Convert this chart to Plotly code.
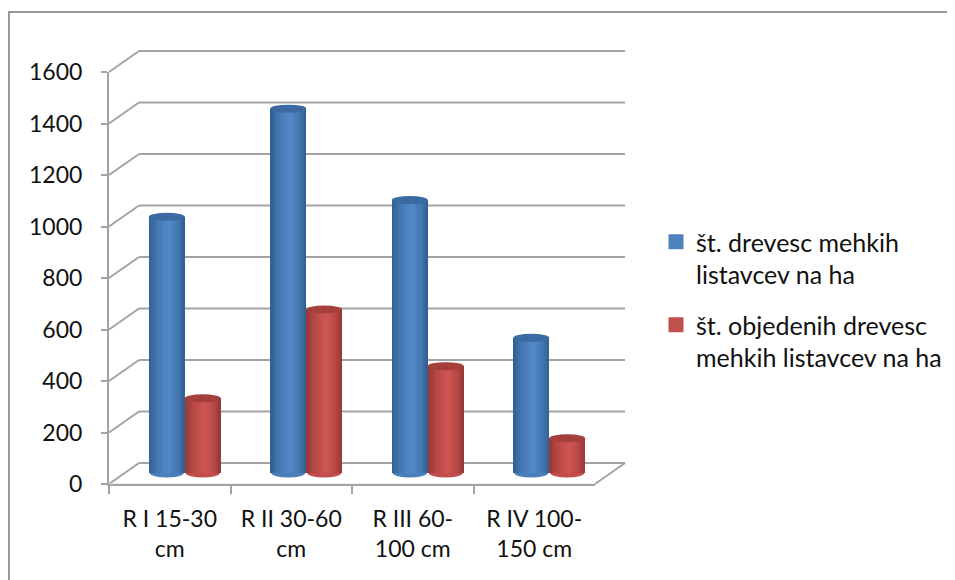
import plotly.graph_objects as go

categories = ["R I 15-30<br>cm", "R II 30-60<br>cm", "R III 60-<br>100 cm", "R IV 100-<br>150 cm"]
series_a_name = "št. drevesc mehkih<br>listavcev na ha"
series_b_name = "št. objedenih drevesc<br>mehkih listavcev na ha"
series_a = [995, 1415, 1060, 525]
series_b = [290, 635, 415, 135]
y_ticks = [0, 200, 400, 600, 800, 1000, 1200, 1400, 1600]

# the page has an 8 px body margin; the figure fills the rest of the window
PAGE = 8
W, H = 955 - PAGE, 580 - PAGE
FONT = "Lato"
GRID = "#a3a3a3"
TEXT = "#111111"

# geometry of the pseudo-3D box, in window pixels
front_l, front_r, front_b, front_t = 109, 595, 484, 72
depth_x, depth_y = 30, 21
mid_x, mid_y = 15, 11
foot_room = 30
bar_w = 0.296
bar_px = 36
px = lambda x: (x - PAGE) / W
py = lambda y: 1 - (y - PAGE) / H
val_y = lambda v: front_b - (front_b - front_t) * v / 1600


def shades(edge, centre, n=15, peak=0.55):
    out = []
    for i in range(n):
        t = (i + 0.5) / n
        s = t / peak if t < peak else (1 - t) / (1 - peak)
        s = min(1, s ** 0.6)
        out.append("rgb(%d,%d,%d)" % tuple(round(e + (c - e) * s) for e, c in zip(edge, centre)))
    return out


fig = go.Figure()
idx = list(range(len(categories)))

# front axes, carrying the labels
fig.add_trace(go.Bar(x=categories, y=[0] * len(categories), xaxis="x", yaxis="y",
                     showlegend=False, hoverinfo="skip"))

specs = [
    (series_a_name, series_a, -bar_w, "#4F81BD", shades((44, 88, 138), (84, 138, 202))),
    (series_b_name, series_b, 0.0, "#C0504D", shades((140, 50, 48), (208, 86, 82))),
]
shapes = []

# back wall, floor and side lines
for v in y_ticks:
    yb = val_y(v) - depth_y
    shapes.append(dict(type="line", xref="paper", yref="paper", layer="below",
                       x0=px(front_l + depth_x), x1=px(front_r + depth_x), y0=py(yb), y1=py(yb),
                       line=dict(color=GRID, width=2)))
    shapes.append(dict(type="line", xref="paper", yref="paper", layer="below",
                       x0=px(front_l), x1=px(front_l + depth_x), y0=py(val_y(v)), y1=py(yb),
                       line=dict(color=GRID, width=2)))
shapes.append(dict(type="line", xref="paper", yref="paper", layer="below",
                   x0=px(front_r), x1=px(front_r + depth_x), y0=py(front_b), y1=py(front_b - depth_y),
                   line=dict(color=GRID, width=2)))
# outer chart frame
shapes.append(dict(type="line", xref="paper", yref="paper", x0=px(9), x1=px(9), y0=0, y1=py(12),
                   line=dict(color="#999999", width=2)))
shapes.append(dict(type="line", xref="paper", yref="paper", x0=px(8), x1=1, y0=py(12), y1=py(12),
                   line=dict(color="#999999", width=2)))

for name, vals, off, colour, grad in specs:
    # legend swatch
    fig.add_trace(go.Scatter(x=[None], y=[None], name=name, mode="markers", xaxis="x2", yaxis="y2",
                             legendgroup=name, hoverinfo="skip",
                             marker=dict(symbol="square", size=15, color=colour)))
    # base cylinder
    fig.add_trace(go.Bar(x=idx, y=vals, xaxis="x2", yaxis="y2", showlegend=False,
                         width=bar_w, offset=off, marker=dict(color=colour, line=dict(width=0)),
                         hoverinfo="skip"))
    n = len(grad)
    for k, c in enumerate(grad):
        fig.add_trace(go.Bar(x=idx, y=vals, xaxis="x2", yaxis="y2", showlegend=False,
                             width=bar_w / n * 1.05, offset=off + bar_w * k / n,
                             marker=dict(color=c, line=dict(width=0)), hoverinfo="skip"))
    for i, v in zip(idx, vals):
        cx = i + off + bar_w / 2
        # rounded foot, showing only below the bar
        shapes.append(dict(type="circle", xref="x2", yref="y2", layer="below",
                           xsizemode="pixel", ysizemode="pixel", xanchor=cx, yanchor=0,
                           x0=-bar_px / 2 + 1, x1=bar_px / 2 - 1, y0=-4.5, y1=4.5,
                           fillcolor=grad[n // 2 - 2], line=dict(width=0)))
        # top cap
        shapes.append(dict(type="circle", xref="x2", yref="y2", layer="above",
                           xsizemode="pixel", ysizemode="pixel", xanchor=cx, yanchor=v,
                           x0=-bar_px / 2, x1=bar_px / 2, y0=-4, y1=4,
                           fillcolor=grad[1], line=dict(width=0)))

fig.update_layout(
    width=W, height=H, autosize=False,
    margin=dict(l=0, r=0, t=0, b=0, autoexpand=False),
    paper_bgcolor="white", plot_bgcolor="rgba(0,0,0,0)",
    barmode="overlay", bargap=0,
    font=dict(family=FONT, size=23, color=TEXT),
    shapes=shapes,
    xaxis=dict(domain=[px(front_l), px(front_r)], type="category", categoryorder="array",
               categoryarray=categories, tickson="boundaries", ticks="outside", ticklen=8,
               tickcolor=GRID, tickwidth=2, showline=True, linecolor=GRID, linewidth=2,
               showgrid=False, zeroline=False, tickangle=0, anchor="y", automargin=False,
               tickfont=dict(family=FONT, size=23, color=TEXT), ticklabelstandoff=13),
    yaxis=dict(domain=[py(front_b), py(front_t)], range=[0, 1600], tickvals=y_ticks,
               ticks="outside", ticklen=6, tickcolor=GRID, tickwidth=2, showline=True,
               linecolor=GRID, linewidth=2, showgrid=False, zeroline=False, anchor="x",
               automargin=False,
               tickfont=dict(family=FONT, size=23, color=TEXT), ticklabelstandoff=14),
    xaxis2=dict(domain=[px(front_l + mid_x), px(front_r + mid_x)], range=[-0.5, 3.5],
                visible=False, anchor="y2"),
    yaxis2=dict(domain=[py(val_y(-foot_room) - mid_y), py(front_t - mid_y)], range=[-foot_room, 1600],
                visible=False, anchor="x2"),
    legend=dict(x=px(656), y=py(219), xanchor="left", yanchor="top", tracegroupgap=15,
                itemwidth=30, valign="top", bgcolor="rgba(0,0,0,0)",
                font=dict(family=FONT, size=25, color=TEXT)),
)

fig.write_html("out.html")
